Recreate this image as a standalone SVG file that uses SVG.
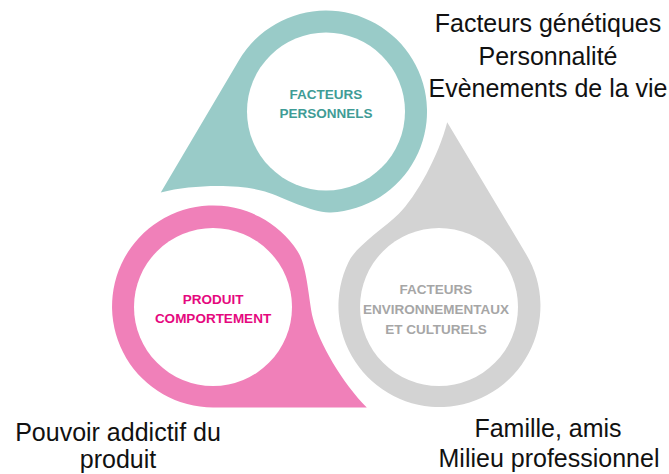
<svg xmlns="http://www.w3.org/2000/svg" xmlns:xlink="http://www.w3.org/1999/xlink" width="669" height="474" viewBox="0 0 669 474">
  <style>
    .lbl { font-family: "Liberation Sans", Arial, sans-serif; font-weight: bold; font-size: 13.5px; text-anchor: middle; }
    .note { font-family: "Liberation Sans", Arial, sans-serif; font-size: 25px; fill: #111111; text-anchor: middle; }
    .teal { fill: #99cbc8; }
    .pink { fill: #f080b9; }
    .gray { fill: #d3d3d3; }
    .hole { fill: #ffffff; }
  </style>
  <defs>
    <path id="drop" d="M184,0 L55.4,84.4 A101,101 0 1 1 40,-92.8 C56.5,-85.9 75.4,-58.8 90,-45 C108.3,-27.8 150.4,-7 184,0 Z"/>
  </defs>
  <rect width="669" height="474" fill="#ffffff"/>

  <g id="node-personnels">
    <use xlink:href="#drop" class="teal" transform="translate(326,111.5) rotate(153.9)"/>
    <circle class="hole" cx="326" cy="111.5" r="79"/>
    <text class="lbl" fill="#3f9c96" x="326" y="99">FACTEURS</text>
    <text class="lbl" fill="#3f9c96" x="326" y="118">PERSONNELS</text>
  </g>

  <g id="node-produit">
    <use xlink:href="#drop" class="pink" transform="translate(213,306.5) rotate(33.3)"/>
    <circle class="hole" cx="213" cy="307" r="79"/>
    <text class="lbl" fill="#e5087e" x="213" y="303.5">PRODUIT</text>
    <text class="lbl" fill="#e5087e" x="213" y="323">COMPORTEMENT</text>
  </g>

  <g id="node-environnement">
    <use xlink:href="#drop" class="gray" transform="translate(439.5,306) rotate(-87.6)"/>
    <circle class="hole" cx="439" cy="307" r="79"/>
    <text class="lbl" fill="#a6a6a6" x="436" y="293.5">FACTEURS</text>
    <text class="lbl" fill="#a6a6a6" x="436" y="313.5">ENVIRONNEMENTAUX</text>
    <text class="lbl" fill="#a6a6a6" x="436" y="333.5">ET CULTURELS</text>
  </g>

  <g id="notes">
    <text class="note" x="548" y="32">Facteurs génétiques</text>
    <text class="note" x="548" y="64.5">Personnalité</text>
    <text class="note" x="548" y="97">Evènements de la vie</text>
    <text class="note" x="118" y="441">Pouvoir addictif du</text>
    <text class="note" x="118" y="468">produit</text>
    <text class="note" x="548" y="437">Famille, amis</text>
    <text class="note" x="549" y="467">Milieu professionnel</text>
  </g>

  <g id="connectors"></g>
</svg>
